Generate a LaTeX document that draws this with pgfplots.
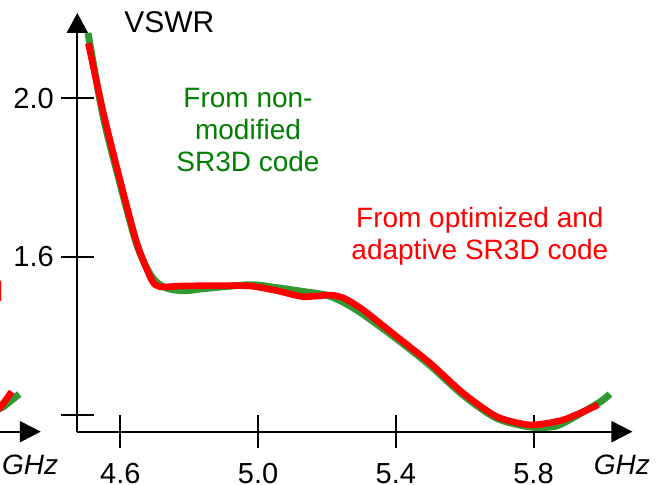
\documentclass[border=0pt]{standalone}
\usepackage{pgfplots}
\pgfplotsset{compat=1.18}
\usepackage{fontspec}
\setmainfont{Liberation Sans}
\usetikzlibrary{arrows.meta}
\definecolor{lgreen}{RGB}{51,153,51}
\definecolor{tgreen}{RGB}{0,128,0}
\definecolor{lred}{RGB}{255,0,0}

\pgfplotsset{
  vswraxis/.style={
    scale only axis,
    width=277.6pt, height=209.35pt,
    xmin=4.475, xmax=6.0875,
    ymin=1.158, ymax=2.2154,
    axis lines=left,
    axis line style={line width=1pt,black},
    x axis line style={-{Triangle[length=10.5pt,width=10.5pt]}},
    y axis line style={-{Triangle[length=10pt,width=10.5pt]}},
    tick align=center,
    major tick length=16.5pt,
    tick style={line width=1pt,black},
    minor tick num=0,
    /pgf/number format/assume math mode=true,
    tick label style={font=\fontsize{14.5}{16}\selectfont},
    clip=false,
  }
}

\begin{document}
\begin{tikzpicture}
\useasboundingbox (-38.65pt,-26.65pt) rectangle (291.35pt,215.85pt);

% fragment of the neighbouring chart, cut off at the left edge
\begin{axis}[vswraxis,
  at={(-295.85pt,0pt)}, anchor=south west,
  axis y line=none,
  xtick={4.6,5.0,5.4,5.8}, xticklabels={},
  ytick=\empty,
]
\addplot[lgreen, line width=3.5pt] coordinates {
(5.93,1.200) (5.979,1.221) (6.025,1.253)
};
\addplot[lred, line width=3.3pt] coordinates {
(5.93,1.196) (5.969,1.218) (6.003,1.259)
};
\node[anchor=base east, inner sep=0pt, text=lred, font=\fontsize{14}{16}\selectfont]
  at (rel axis cs:0.933,0.3098) {From optimized and};
\node[inner sep=0pt, font=\fontsize{14}{16}\selectfont\itshape]
  at (rel axis cs:0.9809,-0.0795) {GHz};
\end{axis}

% main chart
\begin{axis}[vswraxis,
  at={(0pt,0pt)}, anchor=south west,
  xtick={4.6,5.0,5.4,5.8}, xticklabels={4.6,5.0,5.4,5.8},
  ytick={1.2,1.6,2.0}, yticklabels={,1.6,2.0},
  xticklabel style={yshift=-4pt},
  yticklabel style={xshift=0pt},
]
\addplot[lgreen, line width=3.5pt, smooth, tension=0.5] coordinates {
(4.506,2.165) (4.550,1.955) (4.599,1.785) (4.648,1.630) (4.691,1.550)
(4.730,1.522) (4.783,1.514) (4.850,1.520) (4.977,1.529) (5.050,1.522)
(5.131,1.512) (5.209,1.500) (5.287,1.465) (5.403,1.392) (5.500,1.325)
(5.596,1.250) (5.693,1.192) (5.790,1.170) (5.850,1.170) (5.887,1.180)
(5.988,1.230) (6.022,1.253)
};
\addplot[lred, line width=3.3pt, smooth, tension=0.4] coordinates {
(4.507,2.139) (4.551,1.962) (4.599,1.794) (4.648,1.634) (4.691,1.541)
(4.715,1.524) (4.780,1.526) (4.900,1.527) (4.977,1.526) (5.050,1.515)
(5.131,1.499) (5.209,1.503) (5.250,1.495) (5.306,1.465) (5.403,1.398)
(5.500,1.331) (5.596,1.255) (5.693,1.196) (5.790,1.175) (5.887,1.188)
(5.988,1.226)
};
\node[anchor=west, inner sep=0pt, font=\fontsize{15}{17}\selectfont]
  at (rel axis cs:0.0841,0.9785) {VSWR};
\node[inner sep=0pt, font=\fontsize{14}{16}\selectfont\itshape]
  at (rel axis cs:0.9809,-0.0795) {GHz};
\node[align=center, inner sep=0pt, text=tgreen, font=\fontsize{14}{16}\selectfont]
  at (rel axis cs:0.3075,0.7206) {From non-\\modified\\SR3D code};
\node[align=center, inner sep=0pt, text=lred, font=\fontsize{14}{16}\selectfont]
  at (rel axis cs:0.7251,0.4662) {From optimized and\\adaptive SR3D code};
\end{axis}
\end{tikzpicture}
\end{document}
